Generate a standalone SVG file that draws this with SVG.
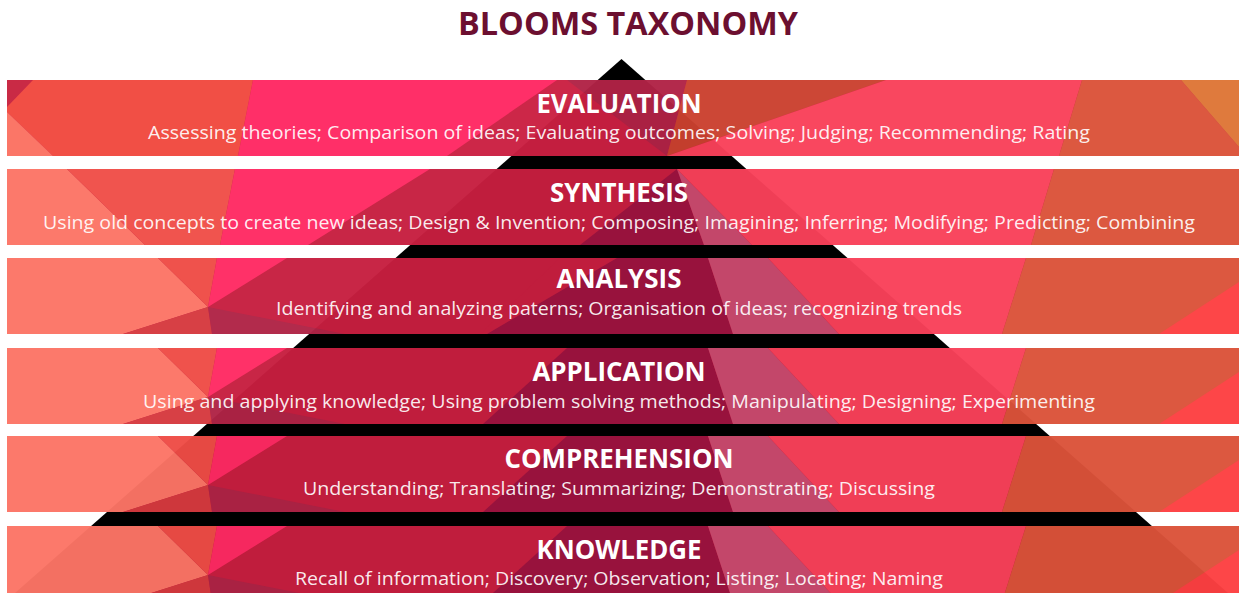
<svg xmlns="http://www.w3.org/2000/svg" width="1239" height="593" viewBox="0 0 1239 593">
<style>
.title{font-family:"Open Sans","Liberation Sans",sans-serif;font-weight:700;font-size:32px;fill:#6c0f30;text-anchor:middle}
.bt{font-family:"Open Sans","Liberation Sans",sans-serif;font-weight:700;font-size:26px;fill:#ffffff;text-anchor:middle}
.bd{font-family:"Open Sans","Liberation Sans",sans-serif;font-weight:400;font-size:19px;fill:#ffffff;fill-opacity:0.92;text-anchor:middle}
.crim{fill:#c71f40}.salm{fill:#fc7566}.redl{fill:#ef4c46}.redd{fill:#d63a3f}.pink{fill:#ff2a63}
.wedge{fill:#b02446}.maroon{fill:#9e1340}.mauve{fill:#cb4a6e}.rpink{fill:#f9415a}.ored{fill:#db523a}.bred{fill:#fd4042}
</style>
<defs>
<g id="pat">
<rect x="7" y="0" width="1232" height="76" class="crim"/>
<polygon points="7,0 158,0 208,49 123,76 7,76" class="salm"/>
<polygon points="158,0 217,0 208,49" class="redl"/>
<polygon points="123,76 208,49 212,76" class="redd"/>
<polygon points="217,0 287,0 208,49" class="pink"/>
<polygon points="208,49 212,76 345,76" class="wedge"/>
<polygon points="567,0 708,0 733,76 483,76" class="maroon"/>
<polygon points="708,0 768,0 839,76 733,76" class="mauve"/>
<polygon points="768,0 1026,0 1002,76 839,76" class="rpink"/>
<polygon points="1026,0 1239,0 1239,76 1002,76" class="ored"/>
<polygon points="1159,76 1239,24 1239,76" class="bred"/>
</g>
</defs>
<rect width="1239" height="593" fill="#ffffff"/>
<text x="628" y="35" class="title" textLength="340" lengthAdjust="spacingAndGlyphs">BLOOMS TAXONOMY</text>
<g id="pyramid">
<polygon points="621.5,59 1228,593 15,593" fill="#000000"/>
</g>
<g id="band-evaluation">
<g opacity="0.965">
<rect x="7" y="80" width="1232" height="76" fill="#cb2042"/>
<polygon points="7,80 33,80 7,107" fill="#c8233f"/>
<polygon points="33,80 253,80 238,156 53,156 7,112 7,107" fill="#f1493f"/>
<polygon points="7,112 53,156 7,156" fill="#fb7262"/>
<polygon points="253,80 557,80 447,156 238,156" fill="#ff2863"/>
<polygon points="567,80 687,80 667,156" fill="#b12346"/>
<polygon points="687,80 886,80 667,156" fill="#cb412f"/>
<polygon points="886,80 1082,80 1059,156 667,156" class="rpink"/>
<polygon points="1082,80 1181,80 1239,147 1239,156 1059,156" class="ored"/>
<polygon points="1181,80 1239,80 1239,147" fill="#de7636"/>
</g>
<text x="619" y="113" class="bt" textLength="165" lengthAdjust="spacingAndGlyphs">EVALUATION</text>
<text x="619" y="139" class="bd" textLength="942" lengthAdjust="spacingAndGlyphs">Assessing theories; Comparison of ideas; Evaluating outcomes; Solving; Judging; Recommending; Rating</text>
</g>
<g id="band-synthesis">
<g opacity="0.965">
<rect x="7" y="169" width="1232" height="76" class="crim"/>
<polygon points="7,169 67,169 145,245 7,245" class="salm"/>
<polygon points="67,169 235,169 220,245 145,245" fill="#f04e48"/>
<polygon points="235,169 430,169 308,245 220,245" class="pink"/>
<polygon points="677,169 704,245 580,245" class="maroon"/>
<polygon points="677,169 752,245 704,245" class="mauve"/>
<polygon points="677,169 1054,169 1031,245 752,245" class="rpink"/>
<polygon points="1054,169 1239,169 1239,245 1031,245" class="ored"/>
</g>
<text x="619" y="202" class="bt" textLength="138" lengthAdjust="spacingAndGlyphs">SYNTHESIS</text>
<text x="619" y="229" class="bd" textLength="1152" lengthAdjust="spacingAndGlyphs">Using old concepts to create new ideas; Design &amp; Invention; Composing; Imagining; Inferring; Modifying; Predicting; Combining</text>
</g>
<g id="band-analysis">
<g opacity="0.965">
<use href="#pat" transform="translate(0,258)"/>
<polygon points="560,258 617,258 487,334 480,334" class="crim"/>
</g>
<text x="619" y="288" class="bt" textLength="125" lengthAdjust="spacingAndGlyphs">ANALYSIS</text>
<text x="619" y="315" class="bd" textLength="686" lengthAdjust="spacingAndGlyphs">Identifying and analyzing paterns; Organisation of ideas; recognizing trends</text>
</g>
<g id="band-application">
<g opacity="0.965"><use href="#pat" transform="translate(0,348)"/></g>
<text x="619" y="381" class="bt" textLength="173" lengthAdjust="spacingAndGlyphs">APPLICATION</text>
<text x="619" y="408" class="bd" textLength="952" lengthAdjust="spacingAndGlyphs">Using and applying knowledge; Using problem solving methods; Manipulating; Designing; Experimenting</text>
</g>
<g id="band-comprehension">
<g opacity="0.965"><use href="#pat" transform="translate(0,436)"/></g>
<text x="619" y="468" class="bt" textLength="229" lengthAdjust="spacingAndGlyphs">COMPREHENSION</text>
<text x="619" y="495" class="bd" textLength="632" lengthAdjust="spacingAndGlyphs">Understanding; Translating; Summarizing; Demonstrating; Discussing</text>
</g>
<g id="band-knowledge">
<g opacity="0.965"><use href="#pat" transform="translate(0,526)"/></g>
<text x="619" y="559" class="bt" textLength="165" lengthAdjust="spacingAndGlyphs">KNOWLEDGE</text>
<text x="619" y="585" class="bd" textLength="648" lengthAdjust="spacingAndGlyphs">Recall of information; Discovery; Observation; Listing; Locating; Naming</text>
</g>
</svg>
